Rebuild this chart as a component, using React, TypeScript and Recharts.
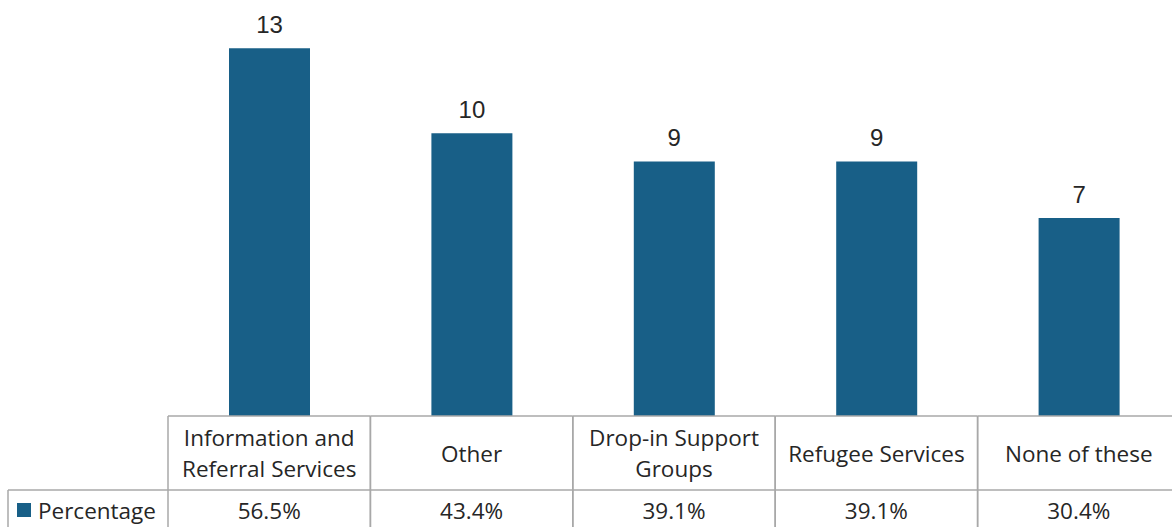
import { BarChart, Bar, XAxis, YAxis, LabelList } from 'recharts'

const categories = ['Information and\nReferral Services', 'Other', 'Drop-in Support\nGroups', 'Refugee Services', 'None of these']
const counts = [13, 10, 9, 9, 7]
const percentages = ['56.5%', '43.4%', '39.1%', '39.1%', '30.4%']
const seriesName = 'Percentage'

const data = categories.map((name, i) => ({ name, count: counts[i], pct: percentages[i] }))

const BAR = '#185f87'
const GRID = '#a8a8a8'
const TEXT = '#262626'
const COL_W = 202.4
const TABLE_FONT = '"Open Sans", "Noto Sans", sans-serif'
const FS = 22.5

function TableTick(props: any) {
  const { x, payload, index } = props
  const y = props.y - 8
  const row = data[index]
  const lines = String(payload.value).split('\n')
  const left = x - COL_W / 2
  const midY = y + 37
  return (
    <g>
      <line x1={left} y1={y} x2={left} y2={y + 120} stroke={GRID} strokeWidth={1.5} />
      <line x1={left} y1={y} x2={left + COL_W} y2={y} stroke={GRID} strokeWidth={1.5} />
      <line x1={left} y1={y + 74} x2={left + COL_W} y2={y + 74} stroke={GRID} strokeWidth={1.5} />
      <line x1={left + COL_W} y1={y} x2={left + COL_W} y2={y + 120} stroke={GRID} strokeWidth={1.5} />
      {lines.map((l, i) => (
        <text
          key={i}
          x={x}
          y={midY + (i - (lines.length - 1) / 2) * 31}
          textAnchor="middle"
          dominantBaseline="central"
          fill={TEXT}
          fontSize={FS}
          fontFamily={TABLE_FONT}
        >
          {l}
        </text>
      ))}
      <text x={x} y={y + 94} textAnchor="middle" dominantBaseline="central" fill={TEXT} fontSize={FS} fontFamily={TABLE_FONT}>
        {row?.pct}
      </text>
      {index === 0 && (
        <g>
          <line x1={8} y1={y + 74} x2={left} y2={y + 74} stroke={GRID} strokeWidth={1.5} />
          <line x1={8} y1={y + 74} x2={8} y2={y + 120} stroke={GRID} strokeWidth={1.5} />
          <rect x={17} y={y + 87} width={14} height={14} fill={BAR} />
          <text x={38} y={y + 94} dominantBaseline="central" fill={TEXT} fontSize={FS} fontFamily={TABLE_FONT}>
            {seriesName}
          </text>
        </g>
      )}
    </g>
  )
}

export default function App() {
  return (
    <div style={{ position: 'absolute', left: 0, top: 0, width: 1172, height: 527, overflow: 'hidden', background: '#fff' }}>
      <BarChart width={1180} height={527} data={data} margin={{ top: 20, right: 0, left: 168, bottom: 0 }}>
        <XAxis
          dataKey="name"
          height={111}
          axisLine={false}
          tickLine={false}
          interval={0}
          tick={<TableTick />}
        />
        <YAxis hide domain={[0, 14]} />
        <Bar dataKey="count" fill={BAR} barSize={81} isAnimationActive={false}>
          <LabelList
            dataKey="count"
            position="top"
            offset={15}
            fill={TEXT}
            fontSize={24}
            fontFamily='"Liberation Sans", Arial, sans-serif'
          />
        </Bar>
      </BarChart>
    </div>
  )
}
